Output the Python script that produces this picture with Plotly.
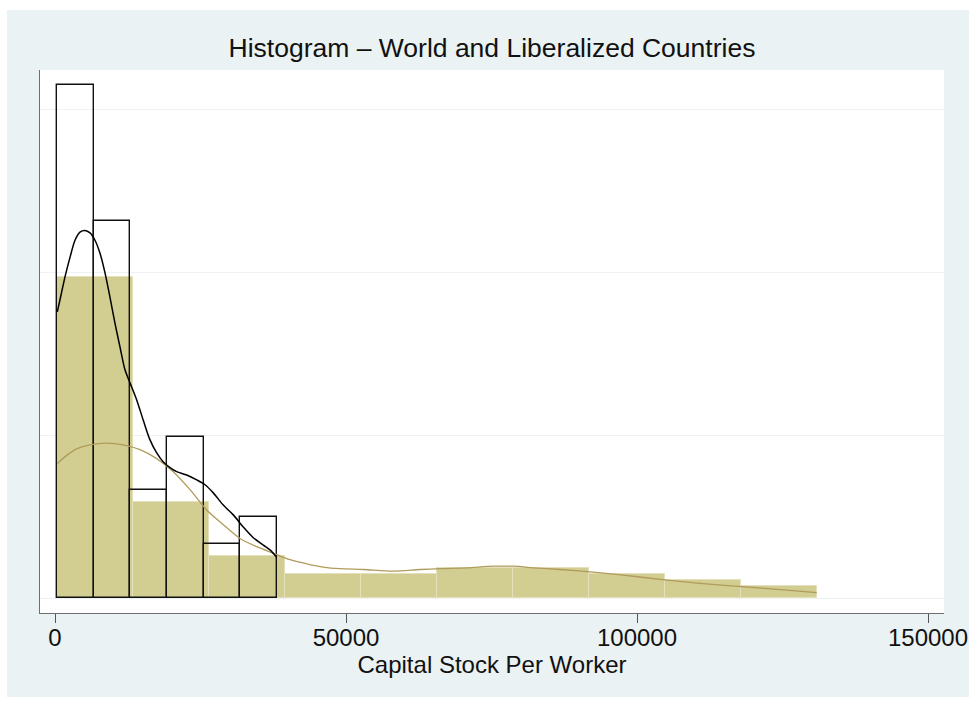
import plotly.graph_objects as go

# ---- data (density values in units of 1e-5) ----
world_edges = [395, 6683, 12971, 19259, 25547, 31835, 38123]
world_density = [6.29, 4.63, 1.32, 1.98, 0.66, 0.99]

lib_edges = [395, 13455, 26515, 39575, 52635, 65695, 78755, 91815, 104875, 117935, 130995]
lib_density = [3.94, 1.18, 0.52, 0.294, 0.294, 0.368, 0.368, 0.294, 0.221, 0.147]

world_kde_x = [395, 859, 1718, 2577, 3436, 4296, 5155, 6014, 6873, 7732, 8591, 9450,
               10309, 11168, 12027, 12887, 14038, 15172, 16323, 17474, 18608, 19759,
               20910, 22628, 24347, 25773, 27199, 28917, 30635, 32353, 34071, 35790,
               36941, 38092]
world_kde_y = [3.51, 3.66, 3.94, 4.18, 4.39, 4.49, 4.51, 4.48, 4.39, 4.23, 3.99, 3.69,
               3.37, 3.08, 2.80, 2.64, 2.43, 2.18, 1.94, 1.78, 1.67, 1.60,
               1.55, 1.51, 1.45, 1.39, 1.29, 1.14, 1.02, 0.87, 0.74, 0.65,
               0.59, 0.50]

lib_kde_x = [395, 2010, 3728, 6014, 8883, 11735, 14605, 17474, 20326, 23196, 26065,
             28917, 31787, 34656, 37508, 40378, 43247, 46099, 48969, 52972, 58127,
             62714, 66151, 70738, 75309, 78745, 82182, 86769, 91924, 96511, 105102,
             110824, 117990, 125138, 130875]
lib_kde_y = [1.65, 1.75, 1.83, 1.88, 1.90, 1.88, 1.82, 1.71, 1.55, 1.33, 1.08,
             0.90, 0.73, 0.63, 0.55, 0.47, 0.42, 0.38, 0.36, 0.35, 0.33,
             0.35, 0.36, 0.37, 0.39, 0.39, 0.37, 0.35, 0.32, 0.29, 0.22,
             0.18, 0.14, 0.10, 0.065]

x_ticks = [0, 50000, 100000, 150000]
x_tick_labels = ["0", "50000", "100000", "150000"]
y_grid = [0, 2, 4, 6]

title_text = "Histogram \u2013 World and Liberalized Countries"
x_title = "Capital Stock Per Worker"

# ---- figure ----
def centers(edges):
    return [(edges[i] + edges[i + 1]) / 2 for i in range(len(edges) - 1)]

def widths(edges):
    return [edges[i + 1] - edges[i] for i in range(len(edges) - 1)]

BG = "#EAF2F3"
KHAKI = "#D2CD90"
OLIVE = "#B09B5C"
FONT = "Liberation Sans, Arial, Helvetica, sans-serif"

W, H = 969, 701

fig = go.Figure()

fig.add_trace(go.Bar(
    x=centers(lib_edges), y=lib_density, width=widths(lib_edges), base=0,
    marker=dict(color=KHAKI, line=dict(color="#E4E0BC", width=1)),
    showlegend=False, hoverinfo="skip"))

fig.add_trace(go.Bar(
    x=centers(world_edges), y=world_density, width=widths(world_edges), base=0,
    marker=dict(color="rgba(0,0,0,0)", line=dict(color="#111111", width=1.4)),
    showlegend=False, hoverinfo="skip"))

fig.add_trace(go.Scatter(
    x=lib_kde_x, y=lib_kde_y, mode="lines",
    line=dict(color=OLIVE, width=1.3, shape="spline", smoothing=0.8),
    showlegend=False, hoverinfo="skip"))

fig.add_trace(go.Scatter(
    x=world_kde_x, y=world_kde_y, mode="lines",
    line=dict(color="#000000", width=1.5, shape="spline", smoothing=0.8),
    showlegend=False, hoverinfo="skip"))

fig.update_layout(
    width=W, height=H,
    margin=dict(l=40, r=25, t=70, b=88),
    paper_bgcolor="white",
    plot_bgcolor="white",
    barmode="overlay",
    bargap=0,
    font=dict(family=FONT, color="#111111"),
    title=dict(text=title_text, x=0.5, xref="paper", xanchor="center",
               y=1 - 48 / H, yref="container", yanchor="middle",
               font=dict(size=26.5, family=FONT, color="#111111")),
    shapes=[
        dict(type="rect", xref="paper", yref="paper", layer="below",
             x0=-0.0365, x1=1.05, y0=-0.1547, y1=1.1105,
             fillcolor=BG, line=dict(width=0)),
        dict(type="rect", xref="paper", yref="paper", layer="below",
             x0=0, x1=1, y0=0, y1=1,
             fillcolor="white", line=dict(width=0)),
    ],
)

fig.update_xaxes(
    range=[-2577, 152750],
    automargin=False,
    tickvals=x_ticks, ticktext=x_tick_labels,
    ticks="outside", ticklen=9, tickwidth=1, tickcolor="#555555",
    ticklabelstandoff=-6,
    showline=True, linecolor="#6e6e6e", linewidth=1.3,
    showgrid=False, zeroline=False,
    tickfont=dict(size=24, family=FONT, color="#111111"),
    title=dict(text=x_title, standoff=0, font=dict(size=24, family=FONT, color="#111111")),
)

fig.update_yaxes(
    range=[-0.184, 6.479],
    automargin=False,
    tickvals=y_grid, showticklabels=False, ticks="",
    showline=True, linecolor="#6e6e6e", linewidth=1.3,
    showgrid=True, gridcolor="#EEF2F3", gridwidth=1.2,
    zeroline=False,
)

fig.write_html("out.html",
               config={"displayModeBar": False},
               post_script="document.body.style.margin='0';document.body.style.overflow='hidden';")
